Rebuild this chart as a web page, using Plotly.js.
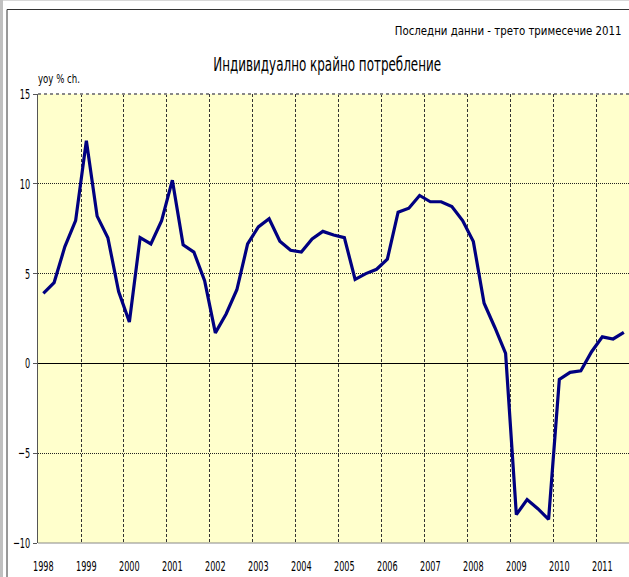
<!DOCTYPE html>
<html>
<head>
<meta charset="utf-8">
<script src="https://cdn.plot.ly/plotly-3.0.1.min.js"></script>
<style>
html,body{margin:0;padding:0;background:#fff;}
#chart{width:629px;height:577px;}
</style>
</head>
<body>
<div id="chart"></div>
<script>
// Quarterly data 1998 Q1 .. 2011 Q3, yoy % change
const quarters = ["1998Q1","1998Q2","1998Q3","1998Q4","1999Q1","1999Q2","1999Q3","1999Q4",
  "2000Q1","2000Q2","2000Q3","2000Q4","2001Q1","2001Q2","2001Q3","2001Q4",
  "2002Q1","2002Q2","2002Q3","2002Q4","2003Q1","2003Q2","2003Q3","2003Q4",
  "2004Q1","2004Q2","2004Q3","2004Q4","2005Q1","2005Q2","2005Q3","2005Q4",
  "2006Q1","2006Q2","2006Q3","2006Q4","2007Q1","2007Q2","2007Q3","2007Q4",
  "2008Q1","2008Q2","2008Q3","2008Q4","2009Q1","2009Q2","2009Q3","2009Q4",
  "2010Q1","2010Q2","2010Q3","2010Q4","2011Q1","2011Q2","2011Q3"];
const values = [3.9, 4.5, 6.5, 7.95, 12.4, 8.2, 7.0, 4.0,
  2.3, 7.0, 6.65, 7.95, 10.2, 6.6, 6.2, 4.6,
  1.7, 2.75, 4.1, 6.65, 7.6, 8.05, 6.8, 6.3,
  6.2, 6.93, 7.35, 7.15, 7.0, 4.68, 5.0, 5.24,
  5.8, 8.42, 8.64, 9.35, 9.0, 9.0, 8.73, 7.95,
  6.78, 3.35, 2.0, 0.56, -8.42, -7.58, -8.09, -8.68,
  -0.89, -0.5, -0.41, 0.65, 1.48, 1.36, 1.73];
const yearLabels = ["1998","1999","2000","2001","2002","2003","2004","2005","2006","2007","2008","2009","2010","2011"];

const titleText = 'Индивидуално крайно потребление';
const subtitleText = 'Последни данни - трето тримесечие 2011';
const unitText = 'yoy % ch.';

const xIdx = quarters.map((q, i) => i);
const yearTickVals = yearLabels.map((y, k) => k * 4);

const FONT = '"DejaVu Sans", Verdana, sans-serif';

const trace = {
  x: xIdx,
  y: values,
  text: quarters,
  type: 'scatter',
  mode: 'lines',
  line: {color: '#000080', width: 3.2},
  hoverinfo: 'text+y'
};

const W = 629, H = 577;
const L = 38, R = 0, T = 94, B = 34;
const pw = W - L - R, ph = H - T - B;
const px = v => (v - L) / pw;
const py = v => (H - B - v) / ph;

const layout = {
  width: W, height: H,
  margin: {l: L, r: R, t: T, b: B, pad: 0},
  paper_bgcolor: '#ffffff',
  plot_bgcolor: '#FFFFCC',
  showlegend: false,
  font: {family: FONT, size: 12, color: '#000'},
  xaxis: {
    range: [-0.5, 54.48],
    tickmode: 'array',
    tickvals: yearTickVals,
    ticktext: yearLabels,
    showgrid: false,
    zeroline: false,
    showline: false,
    ticks: '',
    ticklabelstandoff: 13,
    tickfont: {family: FONT, size: 14.5, color: '#000'},
    minor: {
      tickmode: 'linear', tick0: -0.5, dtick: 4,
      showgrid: true, gridcolor: '#333333', gridwidth: 1, griddash: '3px,2px',
      ticks: ''
    },
    fixedrange: true
  },
  yaxis: {
    range: [-10, 15],
    tickmode: 'linear', tick0: -10, dtick: 5,
    showgrid: true, gridcolor: '#222222', gridwidth: 1, griddash: '1px,1px',
    zeroline: true, zerolinecolor: '#000000', zerolinewidth: 1,
    showline: true, linecolor: '#555555', linewidth: 1,
    ticks: 'outside', ticklen: 4, tickcolor: '#555555',
    tickfont: {family: FONT, size: 14.5, color: '#000'},
    fixedrange: true
  },
  shapes: [
    {type: 'line', xref: 'paper', yref: 'paper', x0: 0, x1: 1, y0: 1, y1: 1,
     line: {color: '#888888', width: 2, dash: 'dot'}},
    {type: 'line', xref: 'paper', yref: 'paper', x0: 0, x1: 1, y0: 0, y1: 0,
     line: {color: '#888888', width: 1}},
    {type: 'rect', xref: 'paper', yref: 'paper',
     x0: px(7), x1: px(W + 20), y0: py(H + 20), y1: py(9.5),
     line: {color: '#333333', width: 1}, fillcolor: 'rgba(0,0,0,0)'},
    {type: 'rect', xref: 'paper', yref: 'paper',
     x0: px(0), x1: px(3), y0: py(H + 20), y1: py(0),
     line: {width: 0}, fillcolor: '#c0c0c0'},
    {type: 'line', xref: 'paper', yref: 'paper', x0: px(3), x1: px(W), y0: py(0.5), y1: py(0.5),
     line: {color: '#d8d8d8', width: 1}}
  ],
  annotations: [
    {text: titleText, xref: 'paper', yref: 'paper',
     x: px(327), y: py(64), xanchor: 'center', yanchor: 'middle', showarrow: false,
     font: {family: FONT, size: 19, color: '#000'}},
    {text: subtitleText, xref: 'paper', yref: 'paper',
     x: px(624), y: py(30), xanchor: 'right', yanchor: 'middle', showarrow: false,
     font: {family: FONT, size: 13, color: '#000'}},
    {text: unitText, xref: 'paper', yref: 'paper',
     x: px(36), y: py(79), xanchor: 'left', yanchor: 'middle', showarrow: false,
     font: {family: FONT, size: 12, color: '#000'}}
  ]
};

// The reference typography is horizontally condensed; squeeze text horizontally.
function squeeze(el, sx, mode) {
  const bb = el.getBBox();
  const ax = mode === 'left' ? bb.x : (mode === 'right' ? bb.x + bb.width : bb.x + bb.width / 2);
  const prev = el.getAttribute('transform') || '';
  el.setAttribute('transform', prev + ' translate(' + ax + ',0) scale(' + sx + ',1) translate(' + (-ax) + ',0)');
}

const annTargets = [{w: 228, mode: 'center'}, {w: 227, mode: 'right'}, {w: 42, mode: 'left'}];

Plotly.newPlot('chart', [trace], layout, {displayModeBar: false, staticPlot: true}).then(gd => {
  const TICK_SX = 0.56;
  gd.querySelectorAll('.xtick text').forEach(t => squeeze(t, TICK_SX, 'center'));
  gd.querySelectorAll('.ytick text').forEach(t => squeeze(t, TICK_SX, 'right'));
  gd.querySelectorAll('.annotation').forEach(g => {
    const idx = +g.getAttribute('data-index');
    const t = g.querySelector('text');
    if (!t || !annTargets[idx]) return;
    const w = t.getBBox().width;
    squeeze(t, annTargets[idx].w / w, annTargets[idx].mode);
  });
});
</script>
</body>
</html>
